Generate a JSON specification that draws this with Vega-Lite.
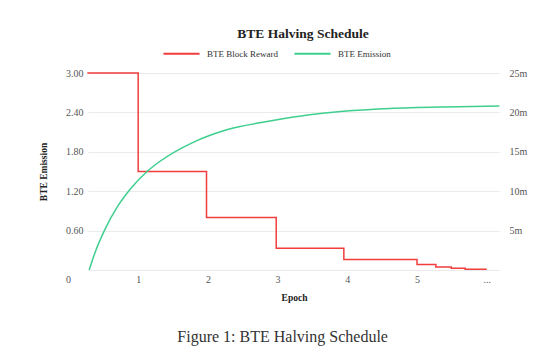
{
  "$schema": "https://vega.github.io/schema/vega-lite/v6.json",
  "padding": {"left": 38, "top": 26, "right": 5, "bottom": 5},
  "background": "white",
  "title": {"text": "Figure 1: BTE Halving Schedule", "orient": "bottom", "anchor": "middle", "font": "Liberation Serif", "fontSize": 16, "fontWeight": "normal", "color": "#333333", "offset": 27},
  "config": {
    "view": {"stroke": null},
    "font": "Liberation Serif",
    "axis": {"labelFont": "Liberation Serif", "titleFont": "Liberation Serif", "labelColor": "#555555", "titleColor": "#222222", "labelFontSize": 10, "titleFontSize": 9.5, "titleFontWeight": "bold", "domain": false, "ticks": false},
    "legend": {"labelFont": "Liberation Serif", "labelFontSize": 9, "labelColor": "#333333"}
  },
  "datasets": {
    "reward": [
      {"series": "BTE Block Reward", "epoch": 0.27, "reward": 3.0},
      {"series": "BTE Block Reward", "epoch": 1.0, "reward": 1.5},
      {"series": "BTE Block Reward", "epoch": 1.98, "reward": 0.8},
      {"series": "BTE Block Reward", "epoch": 2.98, "reward": 0.33},
      {"series": "BTE Block Reward", "epoch": 3.95, "reward": 0.16},
      {"series": "BTE Block Reward", "epoch": 5.0, "reward": 0.085},
      {"series": "BTE Block Reward", "epoch": 5.27, "reward": 0.045},
      {"series": "BTE Block Reward", "epoch": 5.49, "reward": 0.025},
      {"series": "BTE Block Reward", "epoch": 5.69, "reward": 0.013},
      {"series": "BTE Block Reward", "epoch": 6.0, "reward": 0.013}
    ],
    "emission": [
      {"series": "BTE Emission", "epoch": 0.297, "emission": 0},
      {"series": "BTE Emission", "epoch": 0.38, "emission": 2.2},
      {"series": "BTE Emission", "epoch": 0.52, "emission": 5.1},
      {"series": "BTE Emission", "epoch": 0.7, "emission": 8.0},
      {"series": "BTE Emission", "epoch": 0.9, "emission": 10.4},
      {"series": "BTE Emission", "epoch": 1.127, "emission": 12.5},
      {"series": "BTE Emission", "epoch": 1.314, "emission": 13.8},
      {"series": "BTE Emission", "epoch": 1.787, "emission": 16.2},
      {"series": "BTE Emission", "epoch": 2.27, "emission": 17.8},
      {"series": "BTE Emission", "epoch": 2.89, "emission": 18.9},
      {"series": "BTE Emission", "epoch": 3.46, "emission": 19.7},
      {"series": "BTE Emission", "epoch": 4.03, "emission": 20.2},
      {"series": "BTE Emission", "epoch": 4.61, "emission": 20.5},
      {"series": "BTE Emission", "epoch": 5.4, "emission": 20.7},
      {"series": "BTE Emission", "epoch": 6.18, "emission": 20.8}
    ],
    "zeroLabel": [
      {"epoch": 0, "reward": 0, "label": "0"}
    ]
  },
  "hconcat": [
    {
      "width": 412,
      "height": 197,
      "title": {"text": "BTE Halving Schedule", "anchor": "middle", "font": "Liberation Serif", "fontSize": 13.5, "fontWeight": "bold", "color": "#222222", "offset": 28, "dx": 9},
      "encoding": {
        "x": {"field": "epoch", "type": "quantitative", "scale": {"domain": [0.28, 6.19], "nice": false, "zero": false},
          "axis": {"title": "Epoch", "values": [0, 1, 2, 3, 4, 5, 6], "labelExpr": "datum.value == 6 ? '...' : datum.label", "grid": false, "labelPadding": 4, "titlePadding": 8, "labelFlush": false, "labelBound": false, "labelOverlap": false}}
      },
      "layer": [
        {
          "layer": [
            {
              "data": {"name": "reward"},
              "mark": {"type": "line", "interpolate": "step-after", "strokeWidth": 1.5},
              "encoding": {
                "y": {"field": "reward", "type": "quantitative", "scale": {"domain": [0, 3], "nice": false},
                  "axis": {"title": "BTE Emission", "orient": "left", "values": [0, 0.6, 1.2, 1.8, 2.4, 3.0], "format": ".2f", "labelExpr": "datum.value == 0 ? '' : datum.label", "grid": true, "gridColor": "#ebebeb", "labelPadding": 5, "titlePadding": 17, "labelOverlap": false}},
                "color": {"field": "series", "type": "nominal", "scale": {"domain": ["BTE Block Reward", "BTE Emission"], "range": ["#f23d3d", "#3ecf8e"]},
                  "legend": {"title": null, "orient": "none", "direction": "horizontal", "legendX": 74, "legendY": -39, "symbolType": "stroke", "symbolSize": 1300, "symbolStrokeWidth": 2, "columnPadding": 12, "labelOffset": 6, "padding": 0}}
              }
            },
            {
              "data": {"name": "zeroLabel"},
              "mark": {"type": "text", "dy": 9.5, "font": "Liberation Serif", "fontSize": 10, "color": "#555555", "align": "center", "baseline": "middle"},
              "encoding": {
                "y": {"field": "reward", "type": "quantitative",
                  "axis": {"title": "BTE Emission", "orient": "left", "values": [0, 0.6, 1.2, 1.8, 2.4, 3.0], "format": ".2f", "labelExpr": "datum.value == 0 ? '' : datum.label", "grid": true, "gridColor": "#ebebeb", "labelPadding": 5, "titlePadding": 17, "labelOverlap": false}},
                "text": {"field": "label"}
              }
            }
          ]
        },
        {
          "data": {"name": "emission"},
          "mark": {"type": "line", "interpolate": "monotone", "strokeWidth": 1.5},
          "encoding": {
            "y": {"field": "emission", "type": "quantitative", "scale": {"domain": [0, 25], "nice": false},
              "axis": {"title": null, "orient": "right", "values": [0, 5, 10, 15, 20, 25], "labelExpr": "datum.value == 0 ? '' : datum.value + 'm'", "grid": false, "labelPadding": 9}},
            "color": {"field": "series", "type": "nominal"}
          }
        }
      ],
      "resolve": {"scale": {"y": "independent"}}
    }
  ]
}
